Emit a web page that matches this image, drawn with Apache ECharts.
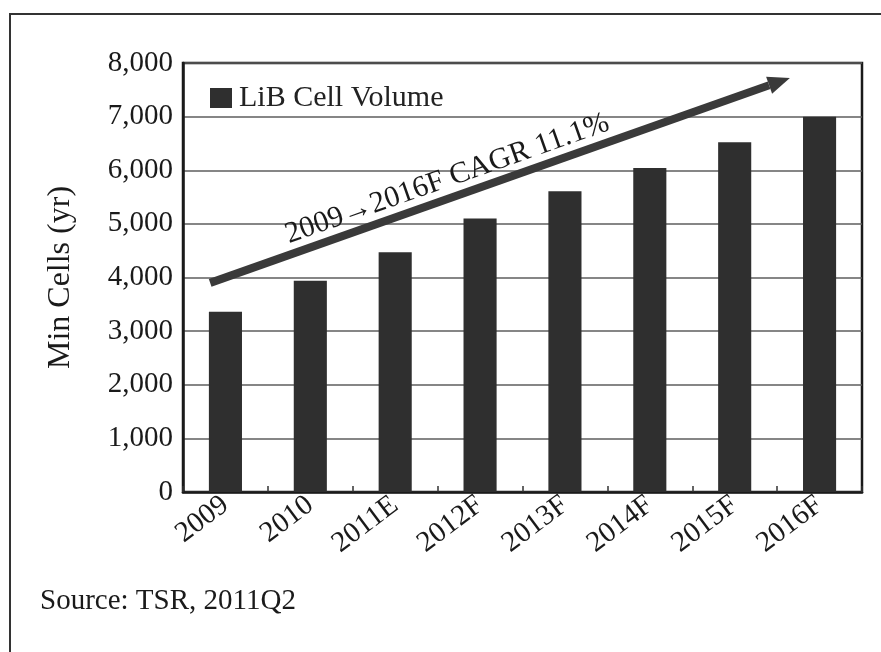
<!DOCTYPE html>
<html>
<head>
<meta charset="utf-8">
<script src="https://cdn.jsdelivr.net/npm/echarts@6/dist/echarts.min.js"></script>
<style>
html,body{margin:0;padding:0;background:#fff;}
#c{width:881px;height:652px;}
</style>
</head>
<body>
<div id="c"></div>
<script>
const categories = ['2009','2010','2011E','2012F','2013F','2014F','2015F','2016F'];
const cellVolume = [3360, 3940, 4470, 5100, 5610, 6040, 6520, 7000];
const yTicks = [0, 1000, 2000, 3000, 4000, 5000, 6000, 7000, 8000];
const seriesName = 'LiB Cell Volume';
const arrowLabel = '2009\u21922016F CAGR 11.1%';
const sourceText = 'Source: TSR, 2011Q2';
const arrowStart = [-0.18, 3900];
const arrowEnd = [6.65, 7720];

const FONT = '"Liberation Serif", "DejaVu Serif", serif';
const chart = echarts.init(document.getElementById('c'));
chart.setOption({
  backgroundColor:'#fff',
  animation:false,
  grid: {left:183, right:19, top:63, bottom:160, show:true, borderColor:'#1a1a1a', borderWidth:2.5, backgroundColor:'transparent'},
  legend: {
    data:[seriesName], left:205, top:78, itemWidth:22, itemHeight:20, itemGap:6,
    icon:'rect',
    textStyle:{fontFamily:FONT, fontSize:30, color:'#222', padding:[0,0,0,2]}
  },
  xAxis: {
    type:'category', data:categories,
    axisLine:{show:true, lineStyle:{color:'#1a1a1a', width:2.5}},
    axisTick:{show:true, inside:true, length:6, lineStyle:{color:'#333', width:1.5}},
    axisLabel:{rotate:37, fontFamily:FONT, fontSize:29, color:'#1a1a1a', margin:10, interval:0}
  },
  yAxis: {
    type:'value', min:yTicks[0], max:yTicks[yTicks.length-1], interval:1000,
    name:'Min Cells (yr)', nameLocation:'middle', nameGap:106,
    nameTextStyle:{fontFamily:FONT, fontSize:32, color:'#1a1a1a'},
    axisLine:{show:true, lineStyle:{color:'#1a1a1a', width:2.5}},
    axisTick:{show:false},
    axisLabel:{fontFamily:FONT, fontSize:29, color:'#1a1a1a', margin:10,
      formatter: v => v.toLocaleString('en-US')},
    splitLine:{show:true, lineStyle:{color:'#5e5e5e', width:1.5}}
  },
  series: [{
    name:seriesName, type:'bar', data:cellVolume, barWidth:'39%',
    itemStyle:{color:'#2f2f2f'}
  }]
});

function toPx(pt){
  const a = chart.convertToPixel({xAxisIndex:0, yAxisIndex:0}, [0, pt[1]]);
  const b = chart.convertToPixel({xAxisIndex:0, yAxisIndex:0}, [1, pt[1]]);
  return [a[0] + (b[0]-a[0])*pt[0], a[1]];
}
const p1 = toPx(arrowStart);
const p2 = toPx(arrowEnd);
const ang = Math.atan2(p2[1]-p1[1], p2[0]-p1[0]);
const headLen = 22, headW = 9;
const bx = p2[0] - headLen*Math.cos(ang), by = p2[1] - headLen*Math.sin(ang);
const nx = -Math.sin(ang), ny = Math.cos(ang);
const midX = p1[0] + (p2[0]-p1[0])*0.42, midY = p1[1] + (p2[1]-p1[1])*0.42;
chart.setOption({
  graphic: [
    {type:'rect', shape:{x:10, y:14, width:900, height:700}, style:{fill:'none', stroke:'#333', lineWidth:2}, z:0, silent:true},
    {type:'line', shape:{x1:p1[0], y1:p1[1], x2:bx, y2:by}, style:{stroke:'#3a3a3a', lineWidth:8}, z:100},
    {type:'polygon', shape:{points:[[p2[0],p2[1]],[bx+nx*headW,by+ny*headW],[bx-nx*headW,by-ny*headW]]}, style:{fill:'#3a3a3a'}, z:100},
    {type:'text', x:midX - nx*19, y:midY - ny*19, rotation:-ang,
      style:{text:arrowLabel, fontFamily:FONT, fontSize:30, fill:'#1a1a1a', align:'center', verticalAlign:'middle'}, z:101},
    {type:'text', left:40, top:587, style:{text:sourceText, fontFamily:FONT, fontSize:29, fill:'#1a1a1a'}}
  ]
});
</script>
</body>
</html>
